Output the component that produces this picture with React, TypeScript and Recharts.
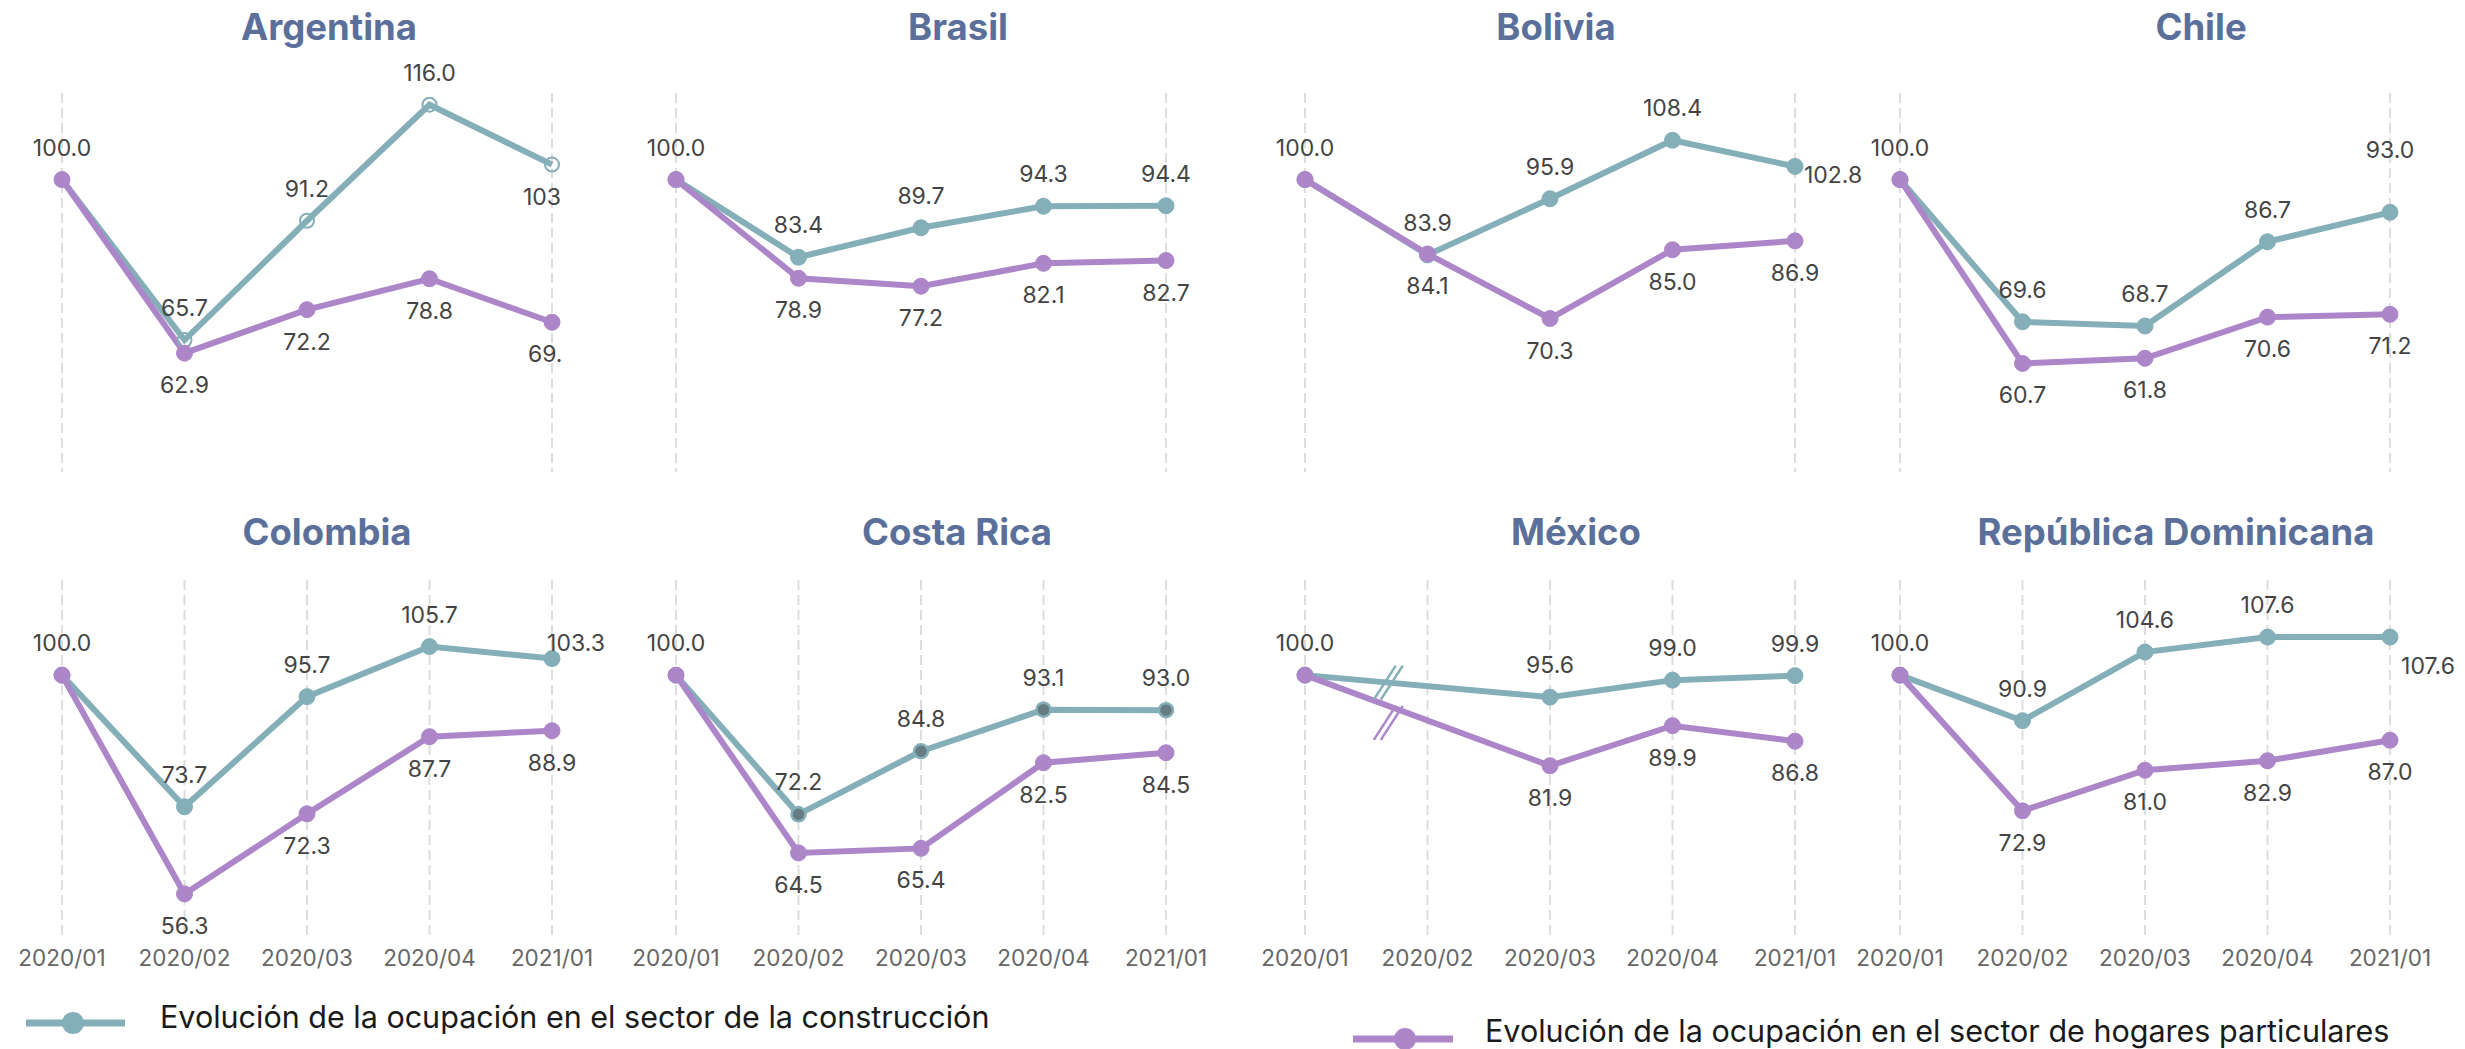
import { CartesianGrid, LabelList, Line, LineChart, ReferenceDot, XAxis, YAxis } from "recharts";

const periods = ["2020/01", "2020/02", "2020/03", "2020/04", "2021/01"];

const argentinaConstruccion = [100, 65.7, 91.2, 116.0, 103.2];
const argentinaHogares = [100, 62.9, 72.2, 78.8, 69.5];
const brasilConstruccion = [100, 83.4, 89.7, 94.3, 94.4];
const brasilHogares = [100, 78.9, 77.2, 82.1, 82.7];
const boliviaConstruccion = [100, 83.9, 95.9, 108.4, 102.8];
const boliviaHogares = [100, 84.1, 70.3, 85.0, 86.9];
const chileConstruccion = [100, 69.6, 68.7, 86.7, 93.0];
const chileHogares = [100, 60.7, 61.8, 70.6, 71.2];
const colombiaConstruccion = [100, 73.7, 95.7, 105.7, 103.3];
const colombiaHogares = [100, 56.3, 72.3, 87.7, 88.9];
const costaRicaConstruccion = [100, 72.2, 84.8, 93.1, 93.0];
const costaRicaHogares = [100, 64.5, 65.4, 82.5, 84.5];
const mexicoConstruccion = [100, null, 95.6, 99.0, 99.9];
const mexicoHogares = [100, null, 81.9, 89.9, 86.8];
const dominicanaConstruccion = [100, 90.9, 104.6, 107.6, 107.6];
const dominicanaHogares = [100, 72.9, 81.0, 82.9, 87.0];

const TEAL = "#84afb8";
const PURPLE = "#ad86c9";
const TITLE = "#5b6f9b";
const FONT = "Inter, 'Noto Sans', sans-serif";

const rows = [
  { plotTop: 93, plotH: 379, domain: [37.5, 118.5], ticks: false },
  { plotTop: 580, plotH: 358, domain: [47.5, 119], ticks: true },
];
const colLeft = [62, 676, 1305, 1900];
const PLOT_W = 490;
const TOP_PAD = 60;

type Special = { index: number; dx: number; dy: number };
type Panel = {
  name: string;
  c: (number | null)[];
  h: (number | null)[];
  row: number;
  col: number;
  titleX: number;
  rightPad?: number;
  cDot?: "hollow" | "dark";
  special?: Special;
  breakAt?: number;
};

const panels: Panel[] = [
  { name: "Argentina", c: argentinaConstruccion, h: argentinaHogares, row: 0, col: 0, titleX: 329, rightPad: 10, cDot: "hollow", special: { index: 4, dx: 0, dy: 32 } },
  { name: "Brasil", c: brasilConstruccion, h: brasilHogares, row: 0, col: 1, titleX: 958 },
  { name: "Bolivia", c: boliviaConstruccion, h: boliviaHogares, row: 0, col: 2, titleX: 1556, special: { index: 4, dx: 38, dy: 9 } },
  { name: "Chile", c: chileConstruccion, h: chileHogares, row: 0, col: 3, titleX: 2201, special: { index: 4, dx: 0, dy: -62 } },
  { name: "Colombia", c: colombiaConstruccion, h: colombiaHogares, row: 1, col: 0, titleX: 327, special: { index: 4, dx: 24, dy: -16 } },
  { name: "Costa Rica", c: costaRicaConstruccion, h: costaRicaHogares, row: 1, col: 1, titleX: 957, cDot: "dark" },
  { name: "México", c: mexicoConstruccion, h: mexicoHogares, row: 1, col: 2, titleX: 1576, breakAt: 0.68 },
  { name: "República Dominicana", c: dominicanaConstruccion, h: dominicanaHogares, row: 1, col: 3, titleX: 2176, special: { index: 4, dx: 38, dy: 29 } },
];

function makeLabel(series: "c" | "h", special?: Special) {
  return (props: any) => {
    const { value, index } = props;
    const x = props.viewBox?.x ?? props.x;
    const y = props.viewBox?.y ?? props.y;
    if (value == null || x == null) return null;
    if (series === "h" && index === 0) return null;
    let dx = 0;
    let dy = series === "c" ? -32 : 32;
    if (series === "c" && special && special.index === index) {
      dx = special.dx;
      dy = special.dy;
    }
    return (
      <text
        x={x + dx}
        y={y + dy}
        textAnchor="middle"
        dominantBaseline="central"
        fontFamily={FONT}
        fontSize={23}
        fill="#444"
      >
        {Number(value).toFixed(1)}
      </text>
    );
  };
}

function BreakMark({ cx, cy, color, shift }: any) {
  const lines = [-3.5, 3.5].map((s) => (
    <line
      key={s}
      x1={cx - 11 + s}
      y1={cy + shift + 17}
      x2={cx + 11 + s}
      y2={cy + shift - 17}
      stroke={color}
      strokeWidth={2.5}
    />
  ));
  return <g>{lines}</g>;
}

function lerp(arr: (number | null)[], at: number) {
  // position along the straight segment between the first and third period
  const a = arr[0] as number;
  const b = arr[2] as number;
  return a + ((b - a) * at) / 2;
}

function dotFor(panel: Panel, series: "c" | "h") {
  if (series === "h") return { r: 8, fill: PURPLE, stroke: PURPLE, strokeWidth: 1 };
  if (panel.cDot === "hollow") return { r: 7, fill: "none", stroke: TEAL, strokeWidth: 2 };
  if (panel.cDot === "dark") return { r: 7, fill: "#657d82", stroke: TEAL, strokeWidth: 2.5 };
  return { r: 8, fill: TEAL, stroke: TEAL, strokeWidth: 1 };
}

function PanelChart({ panel }: { panel: Panel }) {
  const row = rows[panel.row];
  const rightPad = panel.rightPad ?? 80;
  const axisH = row.ticks ? 50 : 1;
  const width = 62 + PLOT_W + rightPad;
  const height = TOP_PAD + row.plotH + axisH;
  const data = periods.map((p, i) => ({ i, period: p, c: panel.c[i], h: panel.h[i] }));

  return (
    <div
      style={{
        position: "absolute",
        left: colLeft[panel.col] - 62,
        top: row.plotTop - TOP_PAD,
        width,
        height,
      }}
    >
      <LineChart
        width={width}
        height={height}
        data={data}
        margin={{ top: TOP_PAD, right: rightPad, bottom: 0, left: 62 }}
      >
        <CartesianGrid horizontal={false} stroke="#dddddd" strokeWidth={2} strokeDasharray="10 5" />
        <XAxis
          type="number"
          dataKey="i"
          domain={[0, 4]}
          ticks={[0, 1, 2, 3, 4]}
          interval={0}
          tickFormatter={(v: number) => periods[v]}
          axisLine={false}
          tickLine={false}
          tick={row.ticks ? { fontSize: 22.5, fill: "#666", fontFamily: FONT } : false}
          tickSize={6}
          tickMargin={6}
          height={axisH}
        />
        <YAxis hide domain={row.domain} type="number" allowDataOverflow />
        <Line
          type="linear"
          dataKey="c"
          stroke={TEAL}
          strokeWidth={6}
          dot={dotFor(panel, "c")}
          activeDot={false}
          connectNulls
          isAnimationActive={false}
        >
          <LabelList dataKey="c" content={makeLabel("c", panel.special)} />
        </Line>
        <Line
          type="linear"
          dataKey="h"
          stroke={PURPLE}
          strokeWidth={6}
          dot={dotFor(panel, "h")}
          activeDot={false}
          connectNulls
          isAnimationActive={false}
        >
          <LabelList dataKey="h" content={makeLabel("h")} />
        </Line>
        {panel.breakAt != null && (
          <ReferenceDot
            x={panel.breakAt}
            y={lerp(panel.c, panel.breakAt)}
            r={1}
            ifOverflow="visible"
            shape={(p: any) => <BreakMark cx={p.cx} cy={p.cy} color={TEAL} shift={0} />}
          />
        )}
        {panel.breakAt != null && (
          <ReferenceDot
            x={panel.breakAt}
            y={lerp(panel.h, panel.breakAt)}
            r={1}
            ifOverflow="visible"
            shape={(p: any) => <BreakMark cx={p.cx} cy={p.cy} color={PURPLE} shift={17} />}
          />
        )}
      </LineChart>
    </div>
  );
}

function Title({ panel }: { panel: Panel }) {
  const y = panel.row === 0 ? 27 : 532;
  return (
    <div
      style={{
        position: "absolute",
        left: panel.titleX - 250,
        top: y - 25,
        width: 500,
        height: 50,
        lineHeight: "50px",
        textAlign: "center",
        fontFamily: FONT,
        fontWeight: 700,
        fontSize: 36.5,
        color: TITLE,
      }}
    >
      {panel.name}
    </div>
  );
}

function LegendItem({ x, y, textY, color, text, lineFrom, lineTo, dotX }: any) {
  return (
    <>
      <svg
        style={{ position: "absolute", left: 0, top: 0, overflow: "visible" }}
        width={2465}
        height={1049}
      >
        <line x1={lineFrom} y1={y} x2={lineTo} y2={y} stroke={color} strokeWidth={7} />
        <circle cx={dotX} cy={y} r={11} fill={color} />
      </svg>
      <div
        style={{
          position: "absolute",
          left: x,
          top: textY - 17,
          height: 34,
          lineHeight: "34px",
          fontFamily: FONT,
          fontSize: 30.5,
          color: "#1a1a1a",
          whiteSpace: "nowrap",
        }}
      >
        {text}
      </div>
    </>
  );
}

export default function App() {
  return (
    <div
      style={{
        position: "absolute",
        left: 0,
        top: 0,
        width: 2465,
        height: 1049,
        overflow: "hidden",
        background: "#fff",
      }}
    >
      {panels.map((p) => (
        <Title key={"t" + p.name} panel={p} />
      ))}
      {panels.map((p) => (
        <PanelChart key={p.name} panel={p} />
      ))}
      <LegendItem
        x={160}
        y={1023}
        textY={1017}
        color={TEAL}
        lineFrom={26}
        lineTo={125}
        dotX={73}
        text="Evolución de la ocupación en el sector de la construcción"
      />
      <LegendItem
        x={1485}
        y={1039}
        textY={1031}
        color={PURPLE}
        lineFrom={1353}
        lineTo={1453}
        dotX={1405}
        text="Evolución de la ocupación en el sector de hogares particulares"
      />
    </div>
  );
}
